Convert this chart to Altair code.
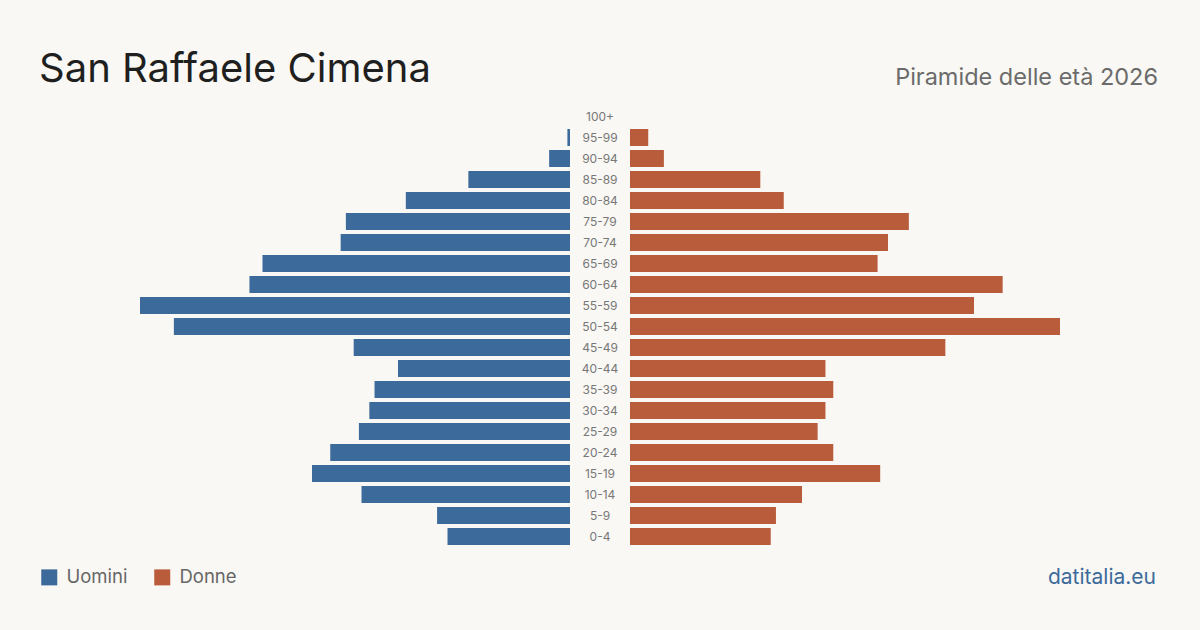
import altair as alt
import pandas as pd

ages = ["0-4", "5-9", "10-14", "15-19", "20-24", "25-29", "30-34", "35-39",
        "40-44", "45-49", "50-54", "55-59", "60-64", "65-69", "70-74",
        "75-79", "80-84", "85-89", "90-94", "95-99", "100+"]
uomini = [47, 51, 80, 99, 92, 81, 77, 75, 66, 83, 152, 165, 123, 118, 88,
          86, 63, 39, 8, 1, 0]
donne = [54, 56, 66, 96, 78, 72, 75, 78, 75, 121, 165, 132, 143, 95, 99,
         107, 59, 50, 13, 7, 0]

order = list(reversed(ages))
BLUE = "#3c6a9b"
ORANGE = "#b95c3b"
BG = "#f9f8f4"
FONT = "Inter"
MAXV = 165
TOP = 106

df_m = pd.DataFrame({"age": ages, "value": uomini, "sex": "Uomini"})
df_f = pd.DataFrame({"age": ages, "value": donne, "sex": "Donne"})
df_lab = pd.DataFrame({"age": ages})

yenc = alt.Y("age:N", scale=alt.Scale(domain=order, paddingInner=0.19, paddingOuter=0.095), axis=None)
color = alt.Color("sex:N",
                  scale=alt.Scale(domain=["Uomini", "Donne"], range=[BLUE, ORANGE]),
                  legend=alt.Legend(orient="none", legendX=-100, legendY=462,
                                    direction="horizontal", title=None,
                                    symbolType="square", symbolSize=256,
                                    symbolStrokeWidth=0, symbolOpacity=1,
                                    labelFontSize=18.5, labelFont=FONT,
                                    labelColor="#666666", labelOffset=8,
                                    columnPadding=25, padding=0))

one = pd.DataFrame({"k": [0]})

frame = alt.Chart(one).mark_rect(opacity=0).encode(
    x=alt.value(-140), x2=alt.value(1060), y=alt.value(-TOP), y2=alt.value(630 - TOP))

title = alt.Chart(one).mark_text(text="San Raffaele Cimena", font=FONT, fontSize=40,
                                 color="#1f1f1f", align="left", baseline="alphabetic").encode(
    x=alt.value(-101), y=alt.value(82 - TOP))

left_bars = alt.Chart(df_m).mark_bar().encode(
    x=alt.X("value:Q", scale=alt.Scale(domain=[0, MAXV], reverse=True, nice=False, zero=True), axis=None),
    y=yenc,
    color=color,
)
left = alt.layer(frame, left_bars, title).properties(width=430, height=441)

mid = alt.Chart(df_lab).mark_text(font=FONT, fontSize=12, color="#777777").encode(
    y=yenc, x=alt.value(30), text="age:N").properties(width=60, height=441)

subtitle = alt.Chart(one).mark_text(text="Piramide delle età 2026", font=FONT, fontSize=23.5,
                                    color="#6b6b6b", align="right", baseline="alphabetic").encode(
    x=alt.value(528), y=alt.value(85 - TOP))
source = alt.Chart(one).mark_text(text="datitalia.eu", font=FONT, fontSize=21,
                                  color=BLUE, align="right", baseline="alphabetic").encode(
    x=alt.value(526), y=alt.value(584 - TOP))

right_bars = alt.Chart(df_f).mark_bar().encode(
    x=alt.X("value:Q", scale=alt.Scale(domain=[0, MAXV], nice=False, zero=True), axis=None),
    y=yenc,
    color=color,
)
right = alt.layer(right_bars, subtitle, source).properties(width=430, height=441)

chart = alt.hconcat(left, mid, right, spacing=0, bounds="flush").resolve_scale(
    color="shared", x="independent", y="shared"
).properties(
    padding=0, background=BG
).configure_view(stroke=None)

chart.save("out.html", embed_options={"renderer": "svg", "actions": False})
